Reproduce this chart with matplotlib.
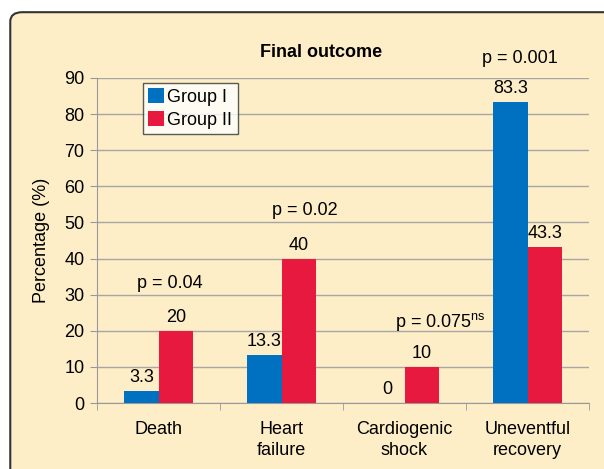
import numpy as np
import matplotlib
matplotlib.use('Agg')
import matplotlib.pyplot as plt
from matplotlib.patches import FancyBboxPatch

plt.rcParams['font.family'] = ['Liberation Sans', 'DejaVu Sans']

# Data
categories = ['Death', 'Heart\nfailure', 'Cardiogenic\nshock', 'Uneventful\nrecovery']
group1 = [3.3, 13.3, 0, 83.3]
group2 = [20, 40, 10, 43.3]
group1_labels = ['3.3', '13.3', '0', '83.3']
group2_labels = ['20', '40', '10', '43.3']
p_labels = ['p = 0.04', 'p = 0.02', r'p = 0.075$^{\mathregular{ns}}$', 'p = 0.001']
p_pos = [(0.09, 33.2), (1.19, 53.2), (2.29, 22.4), (2.94, 95.5)]

blue = '#0070C0'
red = '#E8193F'
bg = '#FDEEC7'
fs = 13

fig = plt.figure(figsize=(6.04, 4.69), dpi=100)
box = FancyBboxPatch((0.017, -0.05), 1.05, 1.024, transform=fig.transFigure,
                     boxstyle='round,pad=0,rounding_size=0.02',
                     facecolor=bg, edgecolor='#333333', linewidth=1.5, zorder=-10)
fig.patches.append(box)

ax = fig.add_axes([0.1606, 0.1407, 0.8146, 0.693])
ax.set_facecolor('none')

x = np.arange(len(categories))
w = 0.28
ax.bar(x - w / 2, group1, w, color=blue, label='Group I', zorder=3)
ax.bar(x + w / 2, group2, w, color=red, label='Group II', zorder=3)

for i in range(len(categories)):
    ax.text(x[i] - w / 2, group1[i] + 1.3, group1_labels[i], ha='center', va='bottom', fontsize=fs)
    ax.text(x[i] + w / 2, group2[i] + 1.3, group2_labels[i], ha='center', va='bottom', fontsize=fs)

for lab, (px, py) in zip(p_labels, p_pos):
    ax.text(px, py, lab, ha='center', va='center', fontsize=fs, clip_on=False)

ax.set_xlim(-0.5, 3.5)
ax.set_ylim(0, 90)
ax.set_yticks(range(0, 91, 10))
ax.set_xticks(x)
ax.set_xticklabels(categories, fontsize=fs, linespacing=1.3)
ax.set_xticks(np.arange(-0.5, 3.6, 1), minor=True)
ax.tick_params(axis='x', which='major', length=0, pad=13)
ax.tick_params(axis='x', which='minor', length=5, color='#999999')
ax.tick_params(axis='y', length=5, color='#999999', labelsize=fs, pad=4)
ax.grid(axis='y', color='#A6A6A6', linewidth=1, zorder=0)
for s in ['top', 'right']:
    ax.spines[s].set_visible(False)
for s in ['left', 'bottom']:
    ax.spines[s].set_color('#999999')

ax.set_ylabel('Percentage (%)', fontsize=fs, labelpad=10)
fig.text(0.531, 0.889, 'Final outcome', fontsize=fs, fontweight='bold',
         ha='center', va='center')

leg = ax.legend(loc='upper left', bbox_to_anchor=(0.093, 0.985), fontsize=fs,
                frameon=True, fancybox=False, handlelength=0.85, handleheight=0.85,
                handletextpad=0.2, borderpad=0.3, labelspacing=0.3, borderaxespad=0)
leg.get_frame().set_edgecolor('#333333')
leg.get_frame().set_linewidth(1.0)

fig.savefig('out.png', dpi=100)
